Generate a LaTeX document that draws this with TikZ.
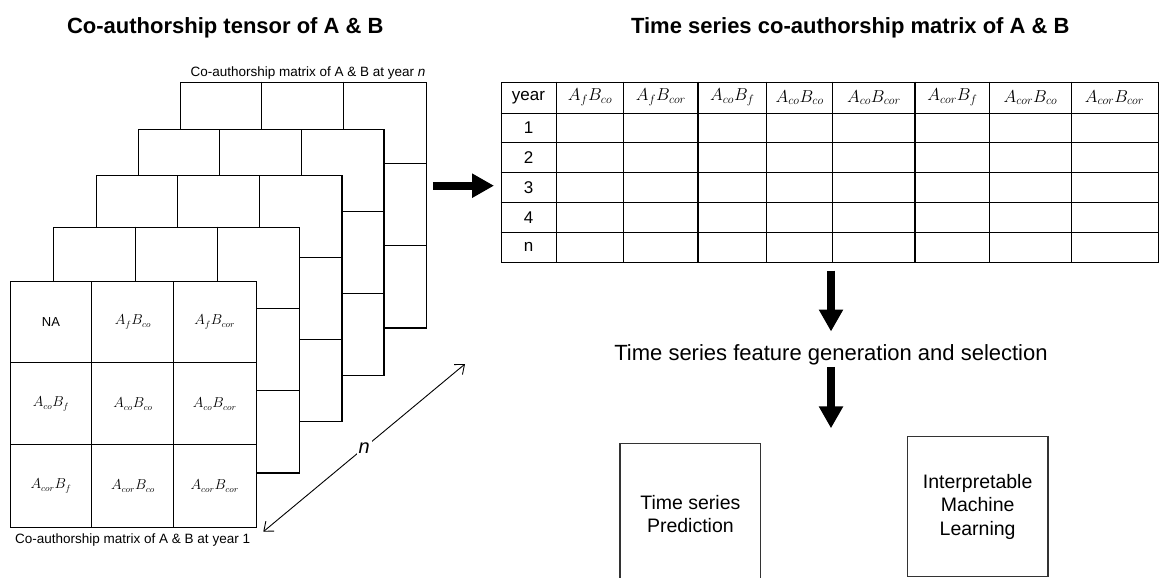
\documentclass[tikz,border=0pt]{standalone}
\usepackage{fontspec}
\setmainfont{Liberation Sans}
\usetikzlibrary{arrows.meta}
\begin{document}
\begin{tikzpicture}[x=1pt,y=-1pt,
  mat/.style={draw, fill=white, line width=1.1pt, minimum size=245.7pt, inner sep=0pt, anchor=north west},
  gridline/.style={line width=1.1pt},
  tline/.style={line width=1.3pt},
  cellm/.style={font=\fontsize{13.5}{16}\selectfont, inner sep=0pt},
  headm/.style={font=\fontsize{18.5}{22}\selectfont, inner sep=0pt},
  headt/.style={font=\fontsize{17}{20}\selectfont, inner sep=0pt},
  title/.style={font=\fontsize{22}{26}\selectfont\bfseries, anchor=base, inner sep=0pt},
  matlabel/.style={font=\fontsize{13.5}{16}\selectfont, inner sep=0pt},
  bigarrow/.style={line width=8pt, -{Triangle[length=22pt,width=23pt]}},
  box/.style={draw=black!80, line width=1.2pt, align=center, font=\fontsize{19.5}{23.5}\selectfont, inner sep=0pt, minimum width=140.7pt}
]
\useasboundingbox (0,0) rectangle (1159,578);

% titles
\node[title] (t1) at (225.3,33.3) {Co-authorship tensor of A \& B};
\node[title] (t2) at (850.3,33.3) {Time series co-authorship matrix of A \& B};

% stacked matrices (back to front)
\foreach \i/\x/\y in {5/180/81.7, 4/137.7/129.3, 3/95.7/175.3, 2/53.3/226.7, 1/10/281} {
  \node[mat] (m\i) at (\x,\y) {};
  \draw[gridline] (\x+81.9,\y) -- (\x+81.9,\y+245.7);
  \draw[gridline] (\x+163.8,\y) -- (\x+163.8,\y+245.7);
  \draw[gridline] (\x,\y+81.9) -- (\x+245.7,\y+81.9);
  \draw[gridline] (\x,\y+163.8) -- (\x+245.7,\y+163.8);
}

% front matrix cells
\node[cellm] (c11) at (51,322) {\fontsize{13}{15}\selectfont NA};
\node[cellm] (c12) at (132.9,322) {$A_fB_{co}$};
\node[cellm] (c13) at (214.7,322) {$A_fB_{cor}$};
\node[cellm] (c21) at (51,404) {$A_{co}B_f$};
\node[cellm] (c22) at (132.9,404) {$A_{co}B_{co}$};
\node[cellm] (c23) at (214.7,404) {$A_{co}B_{cor}$};
\node[cellm] (c31) at (51,486) {$A_{cor}B_f$};
\node[cellm] (c32) at (132.9,486) {$A_{cor}B_{co}$};
\node[cellm] (c33) at (214.7,486) {$A_{cor}B_{cor}$};

% matrix labels
\node[matlabel, anchor=base east] (lbn) at (425.7,76.7) {Co-authorship matrix of A \& B at year \textit{n}};
\node[matlabel, anchor=base west] (lb1) at (15,543) {Co-authorship matrix of A \& B at year 1};

% n double arrow
\coordinate (na) at (263.3,531.7);
\coordinate (nb) at (465,364);
\draw[line width=0.9pt, {Straight Barb[length=8pt,width=13pt]}-{Straight Barb[length=8pt,width=13pt]}] (na) -- node[fill=white, inner sep=2pt, font=\fontsize{20}{24}\selectfont\itshape] (nlab) {n} (nb);

% table
\node[draw, tline, anchor=north west, minimum width=656.8pt, minimum height=180pt, inner sep=0pt] (table) at (500.7,81.7) {};
\foreach \cx in {556.3,623.7,698,766.7,832.7,915,989.7,1071.3}
  \draw[tline] (\cx,81.7) -- (\cx,261.7);
\foreach \ry in {113.3,142.7,172.7,202.3,232.3}
  \draw[tline] (500.7,\ry) -- (1157.5,\ry);
\node[headt] (h1) at (528.5,97.5) {year};
\foreach \n/\cx/\txt in {2/590/{$A_fB_{co}$}, 3/660.85/{$A_fB_{cor}$}, 4/732.35/{$A_{co}B_f$}, 5/799.7/{$A_{co}B_{co}$}, 6/873.85/{$A_{co}B_{cor}$}, 7/952.35/{$A_{cor}B_f$}, 8/1030.5/{$A_{cor}B_{co}$}, 9/1114.4/{$A_{cor}B_{cor}$}}
  \node[headm] (h\n) at (\cx,97.5) {\txt};
\foreach \n/\ry/\txt in {1/128/1, 2/157.7/2, 3/187.5/3, 4/217.3/4, 5/247/n}
  \node[headt] (r\n) at (528.5,\ry) {\txt};

% arrow tensor -> table
\coordinate (arry) at (0,185.7);
\draw[bigarrow, shorten <=6pt, shorten >=6.7pt] (m5.east |- arry) -- (table.west |- arry);

% feature generation
\node[font=\fontsize{22}{26}\selectfont, anchor=base, inner sep=0pt, text height=16pt, text depth=5pt] (feat) at (831,360) {Time series feature generation and selection};
\draw[bigarrow, shorten <=7.6pt, shorten >=12.3pt] (table.south -| feat) -- (feat.north);
\coordinate (a2end) at (831,428.3);
\draw[bigarrow, shorten <=1.7pt] (feat.south) -- (a2end);

% bottom boxes
\node[box, minimum height=141.7pt] (pred) at (690.35,514.15) {Time series\\Prediction};
\node[box, minimum height=140pt] (iml) at (977.65,506.7) {Interpretable\\Machine\\Learning};
\end{tikzpicture}
\end{document}
